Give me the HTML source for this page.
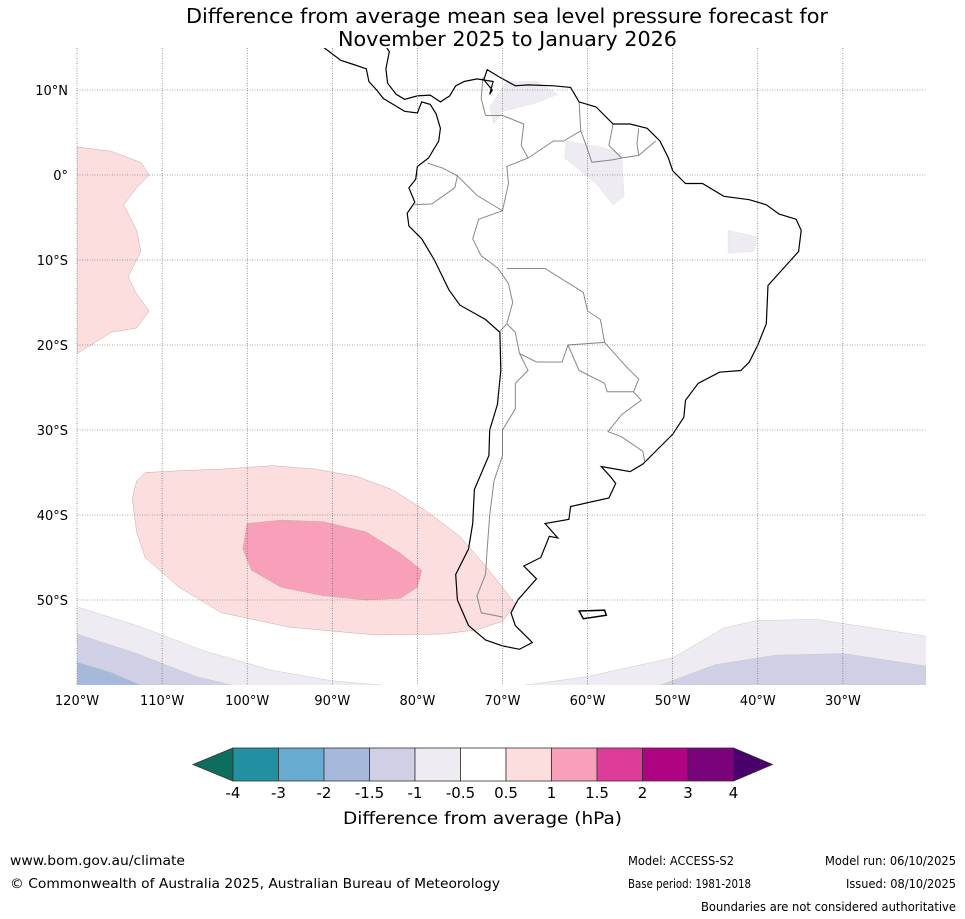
<!DOCTYPE html>
<html><head><meta charset="utf-8"><style>
body{margin:0;background:#fff;font-family:"DejaVu Sans","Liberation Sans",sans-serif}
svg{display:block}
</style></head><body>
<svg width="965" height="919" viewBox="0 0 965 919">
<defs><clipPath id="mapclip"><rect x="77" y="48" width="849" height="637"/></clipPath></defs>
<text x="186" y="23" font-size="20" textLength="642" lengthAdjust="spacingAndGlyphs">Difference from average mean sea level pressure forecast for</text>
<text x="338" y="46" font-size="20" textLength="339" lengthAdjust="spacingAndGlyphs">November 2025 to January 2026</text>
<g id="map" clip-path="url(#mapclip)"></g>
<g id="grid"></g>
<g id="labels" font-size="13"></g>
<g id="cbar"></g>
<text x="343" y="824" font-size="17" textLength="279" lengthAdjust="spacingAndGlyphs">Difference from average (hPa)</text>
<text x="10" y="865" font-size="13" textLength="175" lengthAdjust="spacingAndGlyphs">www.bom.gov.au/climate</text>
<text x="10" y="888" font-size="13" textLength="490" lengthAdjust="spacingAndGlyphs">© Commonwealth of Australia 2025, Australian Bureau of Meteorology</text>
<text x="628" y="865" font-size="12" textLength="106" lengthAdjust="spacingAndGlyphs">Model: ACCESS-S2</text>
<text x="628" y="888" font-size="12" textLength="123" lengthAdjust="spacingAndGlyphs">Base period: 1981-2018</text>
<text x="825" y="865" font-size="12" textLength="131" lengthAdjust="spacingAndGlyphs">Model run: 06/10/2025</text>
<text x="846" y="888" font-size="12" textLength="110" lengthAdjust="spacingAndGlyphs">Issued: 08/10/2025</text>
<text x="701" y="911" font-size="12" textLength="255" lengthAdjust="spacingAndGlyphs">Boundaries are not considered authoritative</text>
</svg>
<script>
const levels=["-4","-3","-2","-1.5","-1","-0.5","0.5","1","1.5","2","3","4"];
const colors=["#0e6e5e","#2190a0","#67abd1","#a6b9da","#cfd0e6","#efebf2","#ffffff","#fddede","#f8a0b9","#de3c99","#ae0383","#7a027a","#4a006a"];
const latTicks=[10,0,-10,-20,-30,-40,-50];
const lonTicks=[-120,-110,-100,-90,-80,-70,-60,-50,-40,-30];
const pinkWest=[[-120,3.3],[-116,2.8],[-112.5,1.5],[-111.5,0],[-113,-1.5],[-114.5,-3.5],[-113,-6.5],[-112.5,-9],[-114,-12],[-113,-14],[-111.5,-16],[-113,-18],[-116,-18.5],[-118,-19.8],[-120,-21]];
const pinkBig=[[-113,-36],[-112,-35],[-108,-34.8],[-103,-34.6],[-97,-34.2],[-92,-34.6],[-87,-35.5],[-83,-37],[-79,-39.5],[-75,-42.5],[-72,-46],[-70,-48.5],[-68.5,-50.5],[-70,-52.5],[-73,-53.5],[-77,-54],[-85,-54.1],[-95,-53.2],[-103,-51.5],[-108,-48.5],[-112,-45],[-113,-42],[-113.5,-38]];
const pinkDark=[[-100,-41],[-96,-40.6],[-91,-40.8],[-86,-42],[-82,-44.5],[-79.5,-46.5],[-80,-48.5],[-82,-49.8],[-86,-50],[-91,-49.5],[-96,-48.5],[-99.5,-46.5],[-100.5,-44]];
const lavLight=[[-120,-50.8],[-113,-53],[-105,-56],[-97,-58.3],[-90,-59.5],[-83,-60.1],[-68,-60.1],[-60,-59],[-50,-56.8],[-44,-53.3],[-40,-52.4],[-33,-52.3],[-20,-54.3],[-20,-62],[-120,-62]];
const lavMid=[[-120,-54],[-113,-56.3],[-106,-59],[-101,-60.2],[-52,-60.2],[-45,-57.6],[-38,-56.5],[-30,-56.3],[-20,-57.8],[-20,-62],[-120,-62]];
const blueLow=[[-120,-57.3],[-116,-58.5],[-112,-60.2],[-120,-62]];
const lavN1=[[-69.5,11],[-66,11],[-63.5,9.5],[-66,8.5],[-70,7.5],[-71,6],[-71.5,8],[-70.5,9.5]];
const lavN2=[[-62.5,4],[-58.5,3.3],[-56,2.5],[-55.7,-2.5],[-57,-3.5],[-59,-1],[-62.7,2]];
const lavN3=[[-43.5,-6.5],[-40,-7.3],[-40.5,-9],[-43.5,-9.2]];
const falklands=[[-61,-51.3],[-58,-51.2],[-57.8,-51.8],[-60.5,-52.2]];
const coast=[[-91,15],[-89,13.5],[-87.5,13],[-86,12.5],[-85.7,11],[-84.8,10],[-84,9],[-83,8.4],[-81.5,7.5],[-80,7.3],[-79.5,8.6],[-78.5,8.3],[-77.8,7.2],[-77.3,5.5],[-77.5,4],[-78.7,2],[-80,1],[-80.2,-0.5],[-81,-1.5],[-80.3,-3.2],[-81.2,-4.5],[-81,-6],[-79.5,-7.5],[-78,-10],[-76.3,-13.5],[-75,-15.3],[-72,-17],[-70.3,-18.5],[-70.2,-23],[-70.6,-27],[-71.5,-30],[-71.6,-33],[-73.3,-37],[-73.5,-41],[-74,-44],[-75.5,-47],[-75.3,-50],[-74,-53],[-72,-54.7],[-70,-55.4],[-68,-55.8],[-66.5,-55],[-68.5,-53],[-69,-51.5],[-68.2,-50],[-66,-47.5],[-67.5,-46],[-65.5,-45],[-64.5,-42.5],[-63.5,-42.7],[-65,-41],[-62.2,-40.5],[-62,-39],[-57.5,-38],[-56.7,-36.3],[-57.3,-35.5],[-58.4,-34.3],[-55,-34.9],[-53.5,-34],[-51.5,-32],[-50,-30.5],[-48.7,-28.5],[-48.5,-26.5],[-47,-24.5],[-44.5,-23.2],[-42,-23],[-41,-22],[-40,-20],[-39,-17.5],[-38.8,-13],[-37,-11],[-35.2,-9],[-34.9,-6.5],[-35.5,-5.2],[-37.5,-4.6],[-39,-3.5],[-41,-2.9],[-44,-2.5],[-46.5,-1],[-48.5,-1],[-50,0.5],[-50.5,2],[-51.5,4],[-53,5.5],[-55,6],[-57,6],[-59,8],[-61,8.6],[-62,10.3],[-64,10.5],[-67,10.6],[-68.5,10.5],[-70.5,11.6],[-71.8,12.4],[-72.2,11.2],[-71.2,10],[-71.5,9.5],[-71.1,11],[-73,11.3],[-74.5,11],[-75.5,10.5],[-76.2,9.3],[-77.3,8.6],[-78.5,9.4],[-80,9.3],[-81.5,8.9],[-82.5,9.5],[-83.5,10.8],[-83.7,12.5],[-83.3,14.5],[-84,15.6]];
const borders=[
[[-78.8,1.4],[-77,0.8],[-75.3,-0.1],[-75.6,-1.5],[-78.3,-3.4],[-80.3,-3.5]],
[[-75.3,-0.1],[-73,-2.4],[-70,-4.2],[-72.8,-5.2],[-73.5,-7.5],[-72.5,-9.5],[-70.5,-11],[-69.3,-12.8],[-68.8,-15],[-69.5,-17.5],[-70.3,-18.4]],
[[-69.5,-17.5],[-68.5,-18.5],[-68,-21],[-67,-23],[-68.5,-24.5],[-68.5,-27.5],[-70,-30],[-70,-33],[-71,-36],[-71.5,-40],[-71.8,-44],[-72,-47],[-73,-49.5],[-72.5,-51.5],[-70,-52]],
[[-68,-21],[-66,-22],[-63,-22],[-62.3,-20],[-58,-19.7],[-58.5,-17],[-60,-16],[-60.5,-13.8],[-65,-11],[-68,-11],[-69.5,-11]],
[[-62.3,-20],[-61,-23],[-58,-24.5],[-57.7,-25.5],[-54.6,-25.5],[-54,-24],[-55.5,-22.5],[-58,-19.7]],
[[-54.6,-25.5],[-53.7,-26.5],[-56,-28.2],[-57.6,-30.2],[-56,-30.8],[-53.5,-32.5],[-53.3,-33.7]],
[[-72,7],[-70,7],[-67.5,6],[-67.8,3.5],[-67,2],[-69.5,1],[-69.3,-1],[-70,-4.2]],
[[-67,2],[-64,4],[-62.8,4],[-60.8,5.2],[-61,8.6]],
[[-60.8,5.2],[-60,3],[-59.5,1.5],[-57,1.8],[-56,2],[-54,2.3],[-52,4]],
[[-57,6],[-57.5,3.5],[-56,2]],[[-54,5.5],[-54.2,3.7],[-54,2.3]],
[[-72.3,11.5],[-72.5,9],[-72,7]]];
const NS="http://www.w3.org/2000/svg";
const X=lon=>77+(lon+120)*8.51, Y=lat=>175-lat*8.5;
function mk(tag,attrs,parent){const e=document.createElementNS(NS,tag);for(const k in attrs)e.setAttribute(k,attrs[k]);parent.appendChild(e);return e;}
const pts=a=>a.map(p=>X(p[0]).toFixed(1)+","+Y(p[1]).toFixed(1)).join(" ");
const map=document.getElementById("map");
function region(arr,fill,name,stroke){const e=mk("polygon",{points:pts(arr),fill:fill,stroke:stroke||"#c9a9a9","stroke-width":"0.5"},map);

}
region(lavLight,colors[5],"anomaly-minus-0-5-south","#ccc");
region(lavMid,colors[4],"anomaly-minus-1-south","#ccc");
region(blueLow,colors[3],"anomaly-minus-1-5-south","#ccc");
region(pinkWest,colors[7],"anomaly-plus-0-5-west");
region(pinkBig,colors[7],"anomaly-plus-0-5-south-pacific");
region(pinkDark,colors[8],"anomaly-plus-1-south-pacific");
region(lavN1,colors[5],"anomaly-minus-0-5-venezuela","#e6e0ea");
region(lavN2,colors[5],"anomaly-minus-0-5-guiana","#e6e0ea");
region(lavN3,colors[5],"anomaly-minus-0-5-brazil","#e6e0ea");
borders.forEach(b=>{const e=mk("polyline",{points:pts(b),fill:"none",stroke:"#888","stroke-width":"1"},map);

});
const c=mk("polyline",{points:pts(coast),fill:"none",stroke:"#000","stroke-width":"1.2"},map);


const fk=mk("polygon",{points:pts(falklands),fill:"none",stroke:"#000","stroke-width":"1.5"},map);


const grid=document.getElementById("grid"),lab=document.getElementById("labels");
latTicks.forEach(l=>{const g=mk("line",{x1:77,x2:926,y1:Y(l),y2:Y(l),stroke:"#555","stroke-width":"0.6","stroke-dasharray":"1,1.5"},grid);


const t=mk("text",{x:68,y:Y(l)+5,"text-anchor":"end"},lab);t.textContent=l===0?"0°":Math.abs(l)+"°"+(l>0?"N":"S");

});
lonTicks.forEach(l=>{const g=mk("line",{x1:X(l),x2:X(l),y1:48,y2:685,stroke:"#555","stroke-width":"0.6","stroke-dasharray":"1,1.5"},grid);


const t=mk("text",{x:X(l),y:705,"text-anchor":"middle"},lab);t.textContent=Math.abs(l)+"°W";

});
const cb=document.getElementById("cbar");const bx0=233,bw=45.5,by=748,bh=33;
const lt=mk("polygon",{points:`193,${by+bh/2} ${bx0},${by} ${bx0},${by+bh}`,fill:colors[0],stroke:"#333","stroke-width":"0.8"},cb);


for(let i=0;i<11;i++){const r=mk("rect",{x:bx0+i*bw,y:by,width:bw,height:bh,fill:colors[i+1],stroke:"#333","stroke-width":"0.8"},cb);

}
const xe=bx0+11*bw;
const rt=mk("polygon",{points:`${xe},${by} ${xe+39},${by+bh/2} ${xe},${by+bh}`,fill:colors[12],stroke:"#333","stroke-width":"0.8"},cb);


levels.forEach((v,i)=>{const t=mk("text",{x:bx0+i*bw,y:798,"font-size":"15","text-anchor":"middle"},cb);t.textContent=v;

});
</script>
</body></html>
